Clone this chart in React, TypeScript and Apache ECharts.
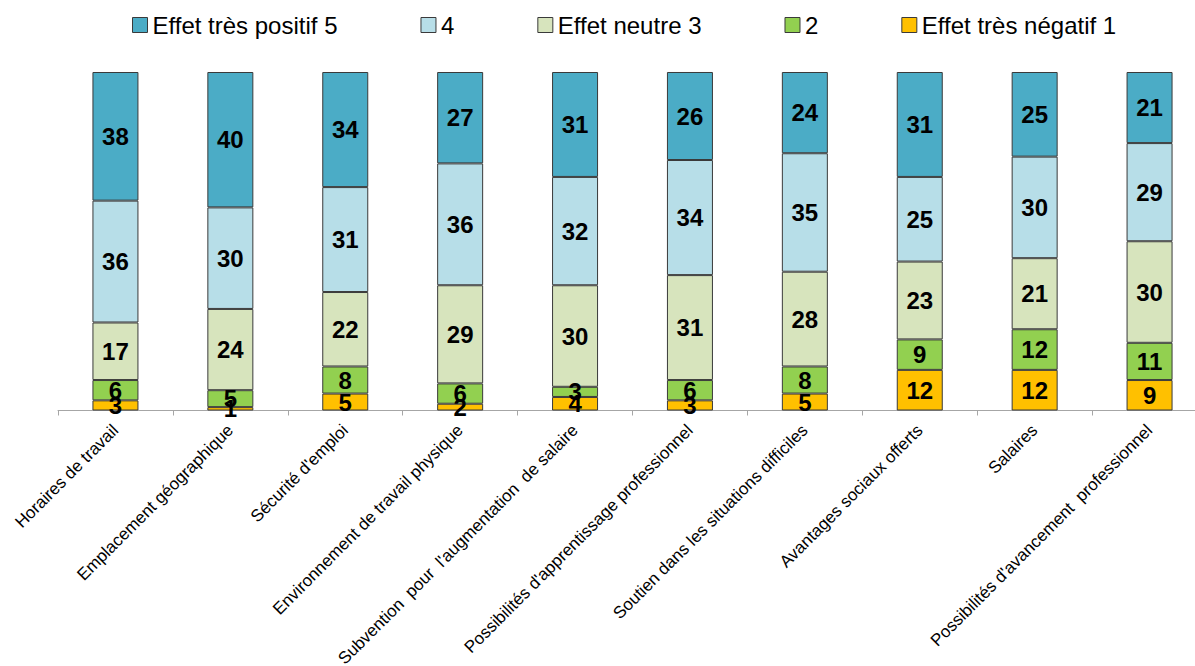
import React, { useEffect, useRef } from "react";
import * as echarts from "echarts";

const categories = [
  "Horaires de travail",
  "Emplacement géographique",
  "Sécurité d'emploi",
  "Environnement de travail physique",
  "Subvention  pour  l'augmentation  de salaire",
  "Possibilités d'apprentissage professionnel",
  "Soutien dans les situations difficiles",
  "Avantages sociaux offerts",
  "Salaires",
  "Possibilités d'avancement  professionnel",
];

const seriesNames = [
  "Effet très négatif 1",
  "2",
  "Effet neutre 3",
  "4",
  "Effet très positif 5",
];

const neg1 = [3, 1, 5, 2, 4, 3, 5, 12, 12, 9];
const val2 = [6, 5, 8, 6, 3, 6, 8, 9, 12, 11];
const neutral3 = [17, 24, 22, 29, 30, 31, 28, 23, 21, 30];
const val4 = [36, 30, 31, 36, 32, 34, 35, 25, 30, 29];
const pos5 = [38, 40, 34, 27, 31, 26, 24, 31, 25, 21];

const colors = ["#FFC000", "#92D050", "#D7E4BD", "#B7DEE8", "#4BACC6"];

const FONT = "'Liberation Sans', Arial, sans-serif";

export default function App() {
  const ref = useRef<HTMLDivElement>(null);
  useEffect(() => {
    if (!ref.current) return;
    const chart = echarts.init(ref.current, undefined, { renderer: "svg" });
    const data = [neg1, val2, neutral3, val4, pos5];
    chart.setOption({
      animation: false,
      textStyle: { fontFamily: FONT },
      legend: {
        top: 13,
        left: 132,
        padding: 0,
        data: [...seriesNames].reverse(),
        itemWidth: 15,
        itemHeight: 15,
        itemGap: 83,
        icon: "rect",
        itemStyle: { borderColor: "#3A3A3A", borderWidth: 1 },
        textStyle: { fontSize: 24, color: "#000", fontFamily: FONT },
      },
      grid: {
        left: 58,
        top: 72,
        bottom: 255.5,
        width: 1149,
        containLabel: false,
        outerBoundsMode: "none",
      },
      xAxis: {
        type: "category",
        data: categories,
        axisLine: { lineStyle: { color: "#A6A6A6", width: 1 } },
        axisTick: { show: true, length: 5, lineStyle: { color: "#A6A6A6" } },
        axisLabel: {
          rotate: 45,
          interval: 0,
          fontSize: 17,
          color: "#000",
          fontFamily: FONT,
          margin: 17,
        },
      },
      yAxis: {
        type: "value",
        min: 0,
        max: 100,
        show: false,
        splitLine: { show: false },
      },
      series: data.map((d, i) => ({
        name: seriesNames[i],
        type: "bar",
        stack: "total",
        barWidth: 46,
        data: d,
        itemStyle: { color: colors[i], borderColor: "#3A3A3A", borderWidth: 1 },
        label: {
          show: true,
          position: "inside",
          color: "#000",
          fontSize: 24,
          fontWeight: "bold",
          fontFamily: FONT,
        },
      })),
    });
    return () => chart.dispose();
  }, []);
  return (
    <div
      ref={ref}
      style={{ position: "fixed", left: 0, top: 0, width: 1195, height: 666, background: "#fff" }}
    />
  );
}
